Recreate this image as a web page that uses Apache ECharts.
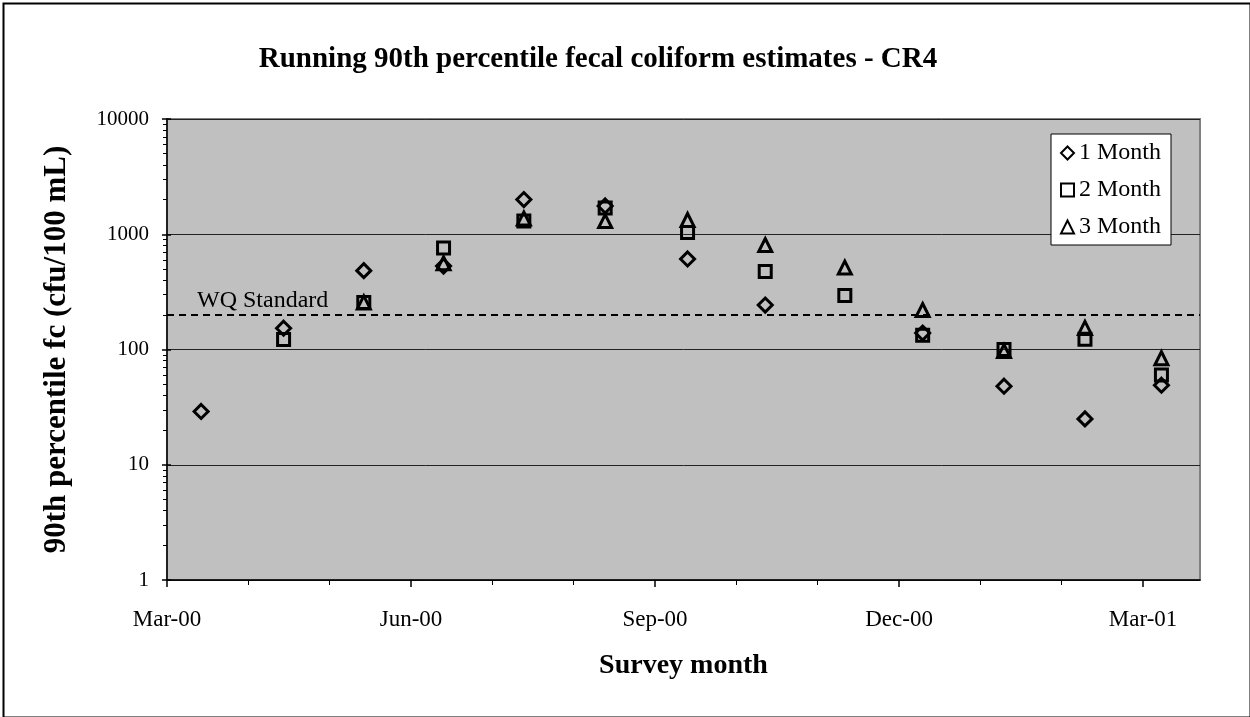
<!DOCTYPE html>
<html><head><meta charset="utf-8">
<script src="https://cdn.jsdelivr.net/npm/echarts@6/dist/echarts.min.js"></script>
<style>html,body{margin:0;padding:0;background:#fff}#c{width:1250px;height:717px}</style>
</head><body><div id="c"></div>
<script>
const surveyDates = ['2000-03-14','2000-04-14','2000-05-14','2000-06-13','2000-07-13','2000-08-13','2000-09-13','2000-10-12','2000-11-11','2000-12-10','2001-01-10','2001-02-09','2001-03-08'];
const oneMonth   = [29, 153, 483, 530, 2000, 1760, 610, 243, null, 139, 48, 25, 49];
const twoMonth   = [null, 122, 256, 760, 1300, 1690, 1036, 475, 294, 133, 100, 123, 60];
const threeMonth = [null, null, 256, 560, 1370, 1300, 1330, 807, 514, 220, 97, 154, 84];
const wqStandard = 200;
const seriesNames = ['1 Month', '2 Month', '3 Month'];
const monthLabels = ['Mar-00', 'Jun-00', 'Sep-00', 'Dec-00', 'Mar-01'];
const majorMonths = [0, 3, 6, 9, 12];
const minorMonths = [1, 2, 4, 5, 7, 8, 10, 11];
const yMinorTicks = [2,3,4,5,6,7,8,9,20,30,40,50,60,70,80,90,200,300,400,500,600,700,800,900,2000,3000,4000,5000,6000,7000,8000,9000];

// months since 1 Mar 2000
function monthPos(s) {
  const [y, m, d] = s.split('-').map(Number);
  const dim = new Date(y, m, 0).getDate();
  return (y - 2000) * 12 + (m - 3) + (d - 1) / dim;
}
function pairs(vals) {
  const out = [];
  vals.forEach((v, i) => { if (v != null) out.push([monthPos(surveyDates[i]), v]); });
  return out;
}

const serif = '"Liberation Serif", "Times New Roman", serif';
const chart = echarts.init(document.getElementById('c'), null, {renderer: 'canvas'});
const mk = (name, vals, symbol, size, extra) => Object.assign({
  name, type: 'scatter', data: pairs(vals), symbol, symbolSize: size,
  xAxisIndex: 0, yAxisIndex: 0,
  itemStyle: {color: 'rgba(0,0,0,0)', borderColor: '#000', borderWidth: 3, opacity: 1},
  emphasis: {disabled: true}
}, extra || {});

chart.setOption({
  animation: false,
  textStyle: {fontFamily: serif},
  title: {
    text: 'Running 90th percentile fecal coliform estimates - CR4',
    left: 593, top: 40, textAlign: 'center',
    textStyle: {fontFamily: serif, fontWeight: 'bold', fontSize: 29, color: '#000'}
  },
  graphic: [{
    type: 'rect', left: 1, top: 1, silent: true,
    shape: {width: 1247, height: 714},
    style: {fill: 'none', stroke: '#000', lineWidth: 2}
  }],
  legend: {
    orient: 'vertical', left: 1051, top: 134,
    data: seriesNames,
    backgroundColor: '#fff', borderColor: '#000', borderWidth: 1,
    padding: [6, 10, 5, 9], itemGap: 11, itemWidth: 13, itemHeight: 13, itemTextGap: 6,
    textStyle: {fontFamily: serif, fontSize: 24, color: '#000', lineHeight: 26}
  },
  grid: {
    left: 167, right: 50, top: 119, bottom: 137, show: true,
    backgroundColor: '#C0C0C0', borderColor: '#808080', borderWidth: 2
  },
  xAxis: [{
    type: 'value', min: 0, max: 12.7,
    name: 'Survey month', nameLocation: 'middle', nameGap: 72,
    nameTextStyle: {fontFamily: serif, fontWeight: 'bold', fontSize: 28, color: '#000'},
    axisLine: {lineStyle: {color: '#000', width: 1.5}},
    axisTick: {show: true, length: 7, lineStyle: {color: '#000', width: 1.5}, customValues: majorMonths},
    axisLabel: {customValues: majorMonths, formatter: v => monthLabels[Math.round(v / 3)] || '',
      fontFamily: serif, fontSize: 23, color: '#000', margin: 28},
    splitLine: {show: false}
  }, {
    type: 'value', min: 0, max: 12.7, position: 'bottom',
    axisLine: {show: false},
    axisTick: {show: true, length: 5, lineStyle: {color: '#000', width: 1}, customValues: minorMonths},
    axisLabel: {show: false}, splitLine: {show: false}
  }],
  yAxis: [{
    type: 'log', logBase: 10, min: 1, max: 10000,
    name: '90th percentile fc (cfu/100 mL)', nameLocation: 'middle', nameGap: 95, nameRotate: 90,
    nameTextStyle: {fontFamily: serif, fontWeight: 'bold', fontSize: 31, color: '#000'},
    axisLine: {lineStyle: {color: '#000', width: 1.5}},
    axisTick: {show: true, length: 5, lineStyle: {color: '#000', width: 1.5}},
    axisLabel: {fontFamily: serif, fontSize: 21, color: '#000', margin: 18, formatter: v => String(v)},
    splitLine: {show: true, lineStyle: {color: '#222', width: 1}}
  }, {
    type: 'log', logBase: 10, min: 1, max: 10000, position: 'left',
    axisLine: {show: false},
    axisTick: {show: true, length: 4, lineStyle: {color: '#000', width: 1}, customValues: yMinorTicks},
    axisLabel: {show: false}, splitLine: {show: false}
  }, {
    type: 'log', logBase: 10, min: 1, max: 10000, position: 'left',
    axisLine: {show: false},
    axisTick: {show: true, inside: true, length: 4, lineStyle: {color: '#000', width: 1.5}},
    axisLabel: {show: false}, splitLine: {show: false}
  }],
  series: [
    mk(seriesNames[0], oneMonth, 'diamond', 14, {
      z: 3,
      markLine: {
        silent: true, symbol: ['none', 'none'],
        lineStyle: {color: '#000', type: [7, 5], width: 2},
        label: {show: true, position: 'insideStartTop', formatter: 'WQ Standard',
          fontFamily: serif, fontSize: 24, color: '#000', distance: [30, 2]},
        data: [{yAxis: wqStandard}]
      }
    }),
    mk(seriesNames[1], twoMonth, 'rect', 12),
    mk(seriesNames[2], threeMonth, 'triangle', 13)
  ]
});
</script></body></html>
